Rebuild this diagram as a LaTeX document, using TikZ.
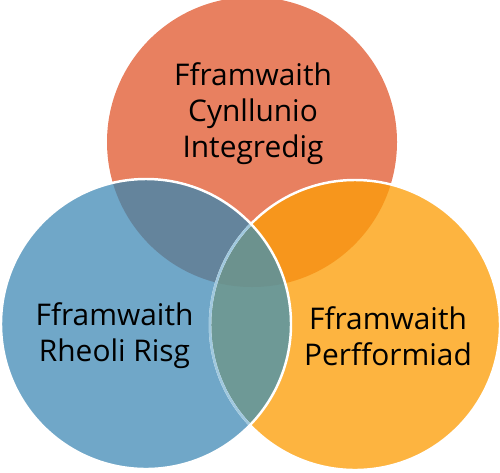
\documentclass[tikz,border=0pt]{standalone}
\usepackage{fontspec}
\setmainfont{Open Sans}
\usepackage{tikz}
\usetikzlibrary{positioning}

\definecolor{cynred}{RGB}{232,128,96}
\definecolor{risgblue}{RGB}{112,167,200}
\definecolor{perforange}{RGB}{253,180,64}
\definecolor{cynrisg}{RGB}{100,132,156}
\definecolor{cynperf}{RGB}{247,150,28}
\definecolor{risgperf}{RGB}{110,153,150}
\definecolor{midall}{RGB}{108,146,142}
\definecolor{edgeblue}{RGB}{160,200,222}

\def\cyn{(5.04,-2.84) circle (2.9cm)}
\def\risg{(2.92,-6.48) circle (2.9cm)}
\def\perf{(7.10,-6.50) circle (2.9cm)}

\tikzset{
  vlabel/.style={font=\fontsize{17}{20.5}\selectfont, align=center, text=black}
}

\begin{document}
\begin{tikzpicture}
			\useasboundingbox (0,0) rectangle (10,-9.44);
			% main fills
			\fill[cynred] \cyn;
			\fill[perforange] \perf;
			\fill[risgblue] \risg;
			%
			\begin{scope}
				\clip \cyn;
				\fill[cynperf] \perf;
				\fill[cynrisg] \risg;
			\end{scope}
			\begin{scope}
				\clip \perf;
				\fill[risgperf] \risg;
				\clip \cyn;
				\fill[midall] \risg;
			\end{scope}
			% borders
			\draw[white, line width=1.4pt] \perf;
			\begin{scope}
				\clip \risg;
				\draw[edgeblue, line width=1.4pt] \perf;
			\end{scope}
			\draw[white, line width=1.4pt] \risg;
			%
			\node[vlabel] (cynlabel) at (5.06,-2.28) {Fframwaith\\Cynllunio\\Integredig};
			\node[vlabel] (risglabel) at (2.29,-6.72) {Fframwaith\\Rheoli Risg};
			\node[vlabel] (perflabel) at (7.76,-6.72) {Fframwaith\\Perfformiad};
		\end{tikzpicture}
\end{document}
